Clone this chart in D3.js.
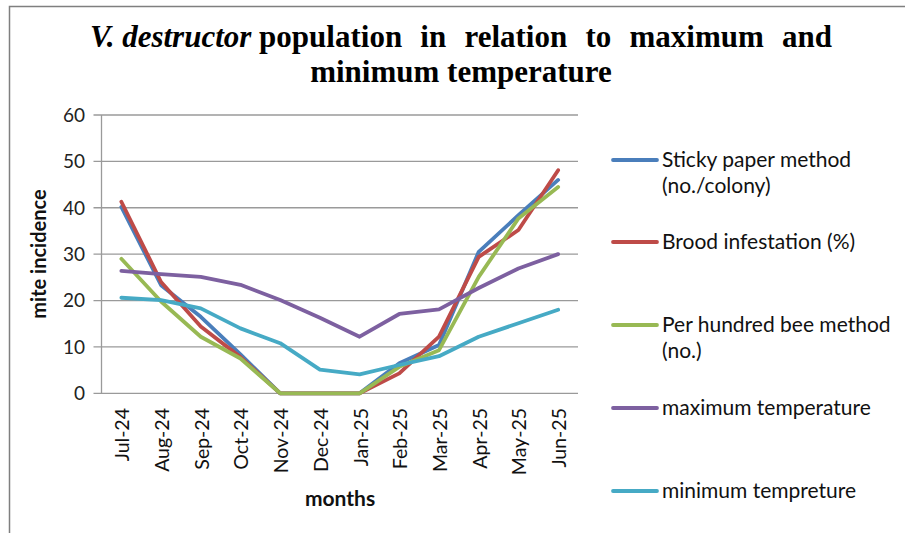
<!DOCTYPE html>
<html><head><meta charset="utf-8">
<script src="https://cdn.jsdelivr.net/npm/d3@7"></script>
<style>
body{margin:0;background:#fff;}
svg{display:block;}
</style></head>
<body>
<svg id="chart" width="905" height="533"></svg>
<script>
const months = ["Jul-24","Aug-24","Sep-24","Oct-24","Nov-24","Dec-24","Jan-25","Feb-25","Mar-25","Apr-25","May-25","Jun-25"];
const stickyPaper = [40.2,23.3,16.5,8.4,0,0,0,6.5,10.4,30.5,38.4,46];
const broodInfestation = [41.3,24,14.4,7.8,0,0,0,4.3,12.2,29.4,35.2,48.1];
const perHundredBee = [29,19.8,12.2,7.5,0,0,0,5.7,9.3,25.1,37.7,44.5];
const maxTemperature = [26.4,25.7,25.1,23.4,20.1,16.3,12.2,17.1,18.1,22.7,26.9,30];
const minTemperature = [20.6,20.1,18.3,14,10.8,5.1,4.1,6.1,8,12.2,15.1,18];
const yTicks = [0,10,20,30,40,50,60];
const seriesNames = ["Sticky paper method (no./colony)","Brood infestation (%)","Per hundred bee method (no.)","maximum temperature","minimum tempreture"];

const series = [
  {name: seriesNames[0], values: stickyPaper, color: "#4a7ebb", lines:["Sticky paper method","(no./colony)"]},
  {name: seriesNames[1], values: broodInfestation, color: "#be4b48", lines:["Brood infestation (%)"]},
  {name: seriesNames[2], values: perHundredBee, color: "#98b954", lines:["Per hundred bee method","(no.)"]},
  {name: seriesNames[3], values: maxTemperature, color: "#7d60a0", lines:["maximum temperature"]},
  {name: seriesNames[4], values: minTemperature, color: "#46aac5", lines:["minimum tempreture"]}
];

const svg = d3.select("#chart");
const sans = "Lato, 'Noto Sans', sans-serif";

// outer frame
svg.append("path").attr("d","M9.5,533 L9.5,6.5 L905,6.5").attr("fill","none").attr("stroke","#7f7f7f").attr("stroke-width",1.5);

const plot = {left:101.5, right:578, top:115, bottom:393.3};
const x = d3.scaleBand().domain(months).range([plot.left, plot.right]);
const y = d3.scaleLinear().domain([0,60]).range([plot.bottom, plot.top]);

// gridlines
svg.append("g").selectAll("line").data(yTicks).join("line")
  .attr("x1", plot.left-8).attr("x2", plot.right)
  .attr("y1", d=>y(d)).attr("y2", d=>y(d))
  .attr("stroke","#9a9a9a").attr("stroke-width",1.3);

// y axis line
svg.append("line").attr("x1",plot.left).attr("x2",plot.left).attr("y1",plot.top).attr("y2",plot.bottom)
  .attr("stroke","#9a9a9a").attr("stroke-width",1.3);

// y tick labels
svg.append("g").selectAll("text").data(yTicks).join("text")
  .attr("x", 85).attr("y", d=>y(d)).attr("dy","0.36em")
  .attr("text-anchor","end").attr("font-family",sans).attr("font-size",19).attr("fill","#222")
  .text(d=>d);

// x tick labels
svg.append("g").selectAll("text").data(months).join("text")
  .attr("transform", d=>`translate(${x(d)+x.bandwidth()/2+8},408) rotate(-90)`)
  .attr("text-anchor","end").attr("font-family",sans).attr("font-size",19.5).attr("fill","#111")
  .text(d=>d);

// axis titles
svg.append("text").attr("transform","translate(46,254) rotate(-90)").attr("text-anchor","middle")
  .attr("font-family",sans).attr("font-weight","bold").attr("font-size",20).attr("fill","#111").text("mite incidence");
svg.append("text").attr("x",340).attr("y",506).attr("text-anchor","middle")
  .attr("font-family",sans).attr("font-weight","bold").attr("font-size",21).attr("fill","#111").text("months");

// lines
const line = d3.line().x((d,i)=>x(months[i])+x.bandwidth()/2).y(d=>y(d));
svg.append("g").selectAll("path").data(series).join("path")
  .attr("d", d=>line(d.values)).attr("fill","none").attr("stroke", d=>d.color)
  .attr("stroke-width",3.8).attr("stroke-linejoin","round").attr("stroke-linecap","round");

// legend
const legendY = [160, 242, 325, 408, 491];
const lg = svg.append("g").selectAll("g").data(series).join("g")
  .attr("transform",(d,i)=>`translate(613,${legendY[i]})`);
lg.append("line").attr("x1",0).attr("x2",44).attr("y1",0).attr("y2",0)
  .attr("stroke",d=>d.color).attr("stroke-width",3.8).attr("stroke-linecap","round");
lg.each(function(d){
  const t = d3.select(this).append("text").attr("font-family",sans).attr("font-size",21).attr("fill","#111");
  d.lines.forEach((l,j)=>{
    t.append("tspan").attr("x",49).attr("y", j*26).attr("dy","0.35em").text(l);
  });
});

// title
const serif = "'Liberation Serif','Times New Roman',serif";
const t1 = svg.append("text").attr("x",90).attr("y",47).attr("font-family",serif).attr("font-weight","bold").attr("font-size",31).attr("fill","#000").attr("xml:space","preserve");
t1.append("tspan").attr("font-style","italic").text("V. destructor ");
const rest = t1.append("tspan").text("population in relation to maximum and");
const natural = t1.node().getComputedTextLength();
const target = 742;
const spaces = 5;
rest.attr("word-spacing", Math.max(0,(target-natural)/spaces));
svg.append("text").attr("x",461).attr("y",82).attr("text-anchor","middle").attr("font-family",serif)
  .attr("font-weight","bold").attr("font-size",31).attr("fill","#000").text("minimum temperature");
</script>
</body></html>
